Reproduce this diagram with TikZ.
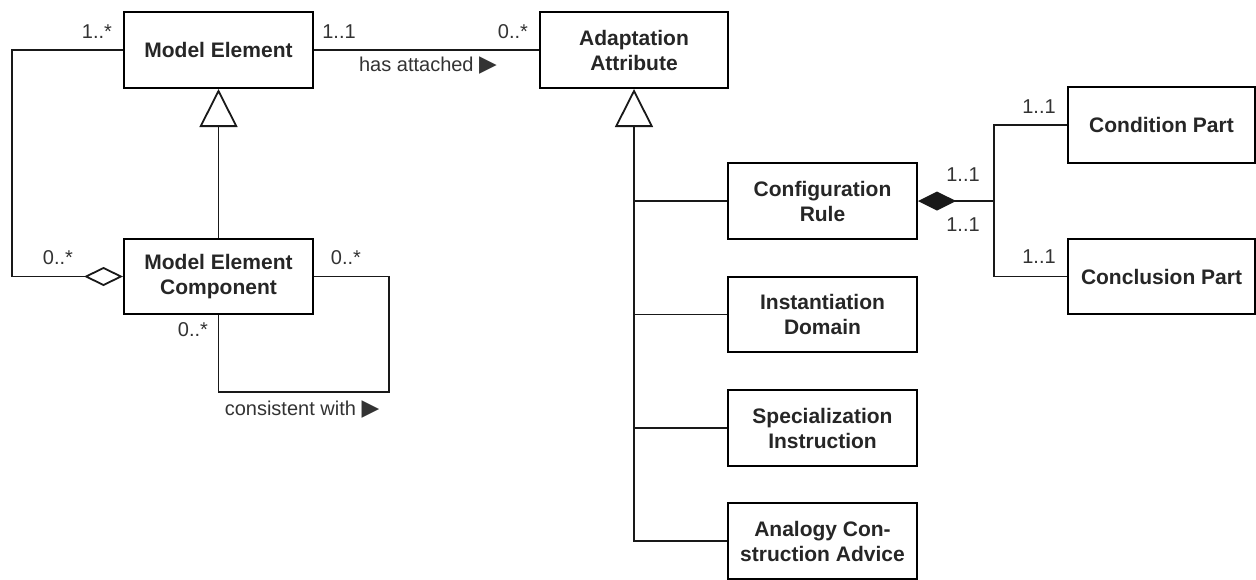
\documentclass[tikz,border=0pt]{standalone}
\usepackage{fontspec}
\setmainfont{Liberation Sans}
\newfontfamily\symfont{DejaVu Sans}
\usetikzlibrary{arrows.meta,calc}
\begin{document}
\begin{tikzpicture}[x=1pt,y=-1pt,
  cls/.style={draw, line width=2pt, minimum width=189pt, minimum height=76pt,
    inner sep=0pt, align=center, font=\fontsize{21}{25}\selectfont\bfseries, text=black!85},
  lbl/.style={inner sep=0pt, font=\fontsize{20}{24}\selectfont, text=black!80},
  conn/.style={line width=1.8pt, draw=black!90},
  gen/.style={conn, {Triangle[open,length=38pt,width=38pt]}-},
  agg/.style={conn, -{Diamond[open,length=39pt,width=19pt]}},
  comp/.style={conn, {Diamond[length=38pt,width=19pt]}-}]
\useasboundingbox (0,0) rectangle (1256,579);
\fill[white] (0,0) rectangle (1256,579);

% classes
\node[cls] (me) at (218.5,50) {Model Element};
\node[cls, minimum width=188pt] (aa) at (634,50) {Adaptation\\Attribute};
\node[cls, minimum height=75pt] (mec) at (218.5,276.5) {Model Element\\Component};
\node[cls] (cr) at (822.5,201) {Configuration\\Rule};
\node[cls, minimum height=75pt] (id) at (822.5,314.5) {Instantiation\\Domain};
\node[cls] (si) at (822.5,428) {Specialization\\Instruction};
\node[cls] (ac) at (822.5,541) {Analogy Con-\\struction Advice};
\node[cls, minimum width=187pt] (cp) at (1161.5,125) {Condition Part};
\node[cls, minimum width=187pt, minimum height=75pt] (cop) at (1161.5,276.5) {Conclusion Part};

% aggregation Model Element <>- Model Element Component
\coordinate (a1) at (12,50);
\coordinate (a2) at (12,276.5);
\draw[agg] (me.west) -- (a1) -- (a2) -- (mec.west);

% generalization Model Element Component -> Model Element
\draw[gen] (me.south) -- (mec.north);

% has attached
\draw[conn] (me.east) -- (aa.west);

% consistent with (self association)
\coordinate (s1) at (389,392);
\draw[conn] (mec.east) -| (s1) -| (mec.south);

% generalization tree of Adaptation Attribute
\coordinate (g) at (aa.south |- ac.west);
\draw[gen] (aa.south) -- (g) -- (ac.west);
\draw[conn] (aa.south |- cr.west) -- (cr.west);
\draw[conn] (aa.south |- id.west) -- (id.west);
\draw[conn] (aa.south |- si.west) -- (si.west);

% composition Configuration Rule
\coordinate (j) at ($(cr.east)+(76,0)$);
\draw[comp] (cr.east) -- (j);
\draw[conn] (cp.west) -| (j) |- (cop.west);

% multiplicities and labels
\node[lbl] (m1) at (97,32) {1..*};
\node[lbl] (m2) at (339,32) {1..1};
\node[lbl] (m3) at (513,32) {0..*};
\node[lbl] (ha) at (428,66) {has attached {\symfont\fontsize{23}{24}\selectfont ▶}};
\node[lbl] (m4) at (58,258) {0..*};
\node[lbl] (m5) at (346,258) {0..*};
\node[lbl] (m6) at (193,330) {0..*};
\node[lbl] (cw) at (302,410) {consistent with {\symfont\fontsize{23}{24}\selectfont ▶}};
\node[lbl] (m7) at (963,175) {1..1};
\node[lbl] (m8) at (963,225) {1..1};
\node[lbl] (m9) at (1039,107) {1..1};
\node[lbl] (m10) at (1039,257) {1..1};
\end{tikzpicture}
\end{document}
